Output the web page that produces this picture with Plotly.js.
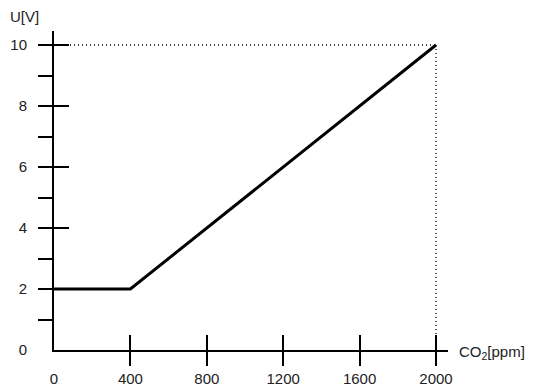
<!DOCTYPE html>
<html><head><meta charset="utf-8">
<script src="https://cdn.plot.ly/plotly-3.0.1.min.js"></script>
<style>html,body{margin:0;padding:0;background:#fff;}</style>
</head><body>
<div id="chart" style="width:533px;height:389px;"></div>
<script>
const co2 = [0, 400, 2000];
const volt = [2, 2, 10];
const xTicks = [0, 400, 800, 1200, 1600, 2000];
const xMajorTicks = [400, 800, 1200, 1600, 2000];
const yTicks = [0, 2, 4, 6, 8, 10];
const yMajorTicks = [2, 4, 6, 8, 10];
const yAllTicks = [1, 2, 3, 4, 5, 6, 7, 8, 9, 10];

const endX = co2[co2.length - 1], endY = volt[volt.length - 1];
const shapes = [
  {type:'line', xref:'x', yref:'y', x0:0, x1:endX, y0:endY, y1:endY,
   line:{color:'#000', width:1.3, dash:'1px,3px'}, layer:'below'},
  {type:'line', xref:'x', yref:'y', x0:endX, x1:endX, y0:0, y1:endY,
   line:{color:'#000', width:1.3, dash:'1px,3px'}, layer:'below'}
];

const XR = [0, 2062.8], YR = [0, 10.459];
const ghost = (xa, ya) => ({x: co2, y: volt, xaxis: xa, yaxis: ya, type:'scatter', mode:'lines',
  line:{color:'rgba(0,0,0,0)', width:0}, hoverinfo:'skip', showlegend:false});
const data = [
  ghost('x2','y2'), ghost('x3','y3'),
  {x: co2, y: volt, type:'scatter', mode:'lines', line:{color:'#000', width:3}, hoverinfo:'skip'}
];

const font = {family:'Liberation Sans, Arial, sans-serif', size:15, color:'#222'};
const base = {showgrid:false, zeroline:false, fixedrange:true};
const layout = {
  width:533, height:389,
  margin:{l:54, r:85, t:31, b:39},
  paper_bgcolor:'#fff', plot_bgcolor:'rgba(0,0,0,0)',
  showlegend:false,
  font: font,
  xaxis:Object.assign({range:XR, tickvals:xTicks, ticktext:xTicks.map(String), ticks:'',
    ticklabelstandoff:14, showline:true, linecolor:'#000', linewidth:2, tickfont:font}, base),
  yaxis:Object.assign({range:YR, tickvals:yTicks, ticktext:yTicks.map(String), ticks:'',
    ticklabelstandoff:22, showline:true, linecolor:'#000', linewidth:2, tickfont:font}, base),
  xaxis2:Object.assign({range:XR, overlaying:'x', anchor:'y2', side:'bottom', tickvals:xMajorTicks,
    ticks:'outside', ticklen:15, tickwidth:2, tickcolor:'#000', showticklabels:false, showline:false}, base),
  yaxis2:Object.assign({range:YR, overlaying:'y', anchor:'x2', side:'left', tickvals:yAllTicks,
    ticks:'outside', ticklen:15, tickwidth:2, tickcolor:'#000', showticklabels:false, showline:false}, base),
  xaxis3:Object.assign({range:XR, overlaying:'x', anchor:'y3', side:'bottom', tickvals:xMajorTicks,
    ticks:'inside', ticklen:15, tickwidth:2, tickcolor:'#000', showticklabels:false, showline:false}, base),
  yaxis3:Object.assign({range:YR, overlaying:'y', anchor:'x3', side:'left', tickvals:yMajorTicks,
    ticks:'inside', ticklen:15, tickwidth:2, tickcolor:'#000', showticklabels:false, showline:false}, base),
  shapes: shapes,
  annotations:[
    {text:'U[V]', xref:'paper', yref:'paper', x:-0.1168, y:1.044, xanchor:'left', yanchor:'middle',
     showarrow:false, font:font},
    {text:'CO<sub>2</sub>[ppm]', xref:'paper', yref:'paper', x:1.0228, y:-0.0094, xanchor:'left', yanchor:'middle',
     showarrow:false, font:font}
  ]
};
Plotly.newPlot('chart', data, layout, {displayModeBar:false, staticPlot:true});
</script>
</body></html>
